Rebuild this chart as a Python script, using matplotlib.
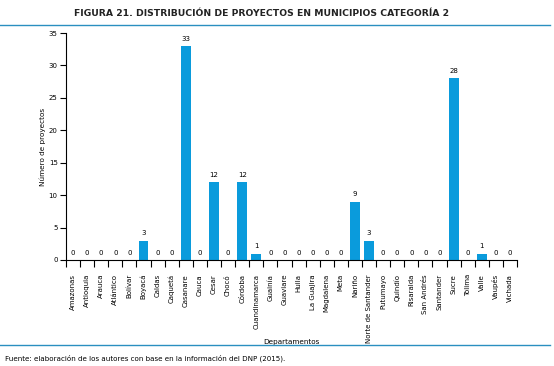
import matplotlib
matplotlib.use("Agg")
import matplotlib.pyplot as plt
from matplotlib.lines import Line2D
import numpy as np

plt.rcParams['font.family'] = ['Liberation Sans Narrow', 'DejaVu Sans Condensed', 'DejaVu Sans']

departamentos = ["Amazonas", "Antioquia", "Arauca", "Atlántico", "Bolívar", "Boyacá", "Caldas",
                 "Caquetá", "Casanare", "Cauca", "Cesar", "Chocó", "Córdoba", "Cuandinamarca",
                 "Guainía", "Guaviare", "Huila", "La Guajira", "Magdalena", "Meta", "Nariño",
                 "Norte de Santander", "Putumayo", "Quindío", "Risaralda", "San Andrés",
                 "Santander", "Sucre", "Tolima", "Valle", "Vaupés", "Vichada"]
proyectos = [0, 0, 0, 0, 0, 3, 0, 0, 33, 0, 12, 0, 12, 1, 0, 0, 0, 0, 0, 0, 9, 3,
             0, 0, 0, 0, 0, 28, 0, 1, 0, 0]
yticks = [0, 5, 10, 15, 20, 25, 30, 35]

W, H = 554, 366
fig = plt.figure(figsize=(W / 100, H / 100), dpi=100)
ax = fig.add_axes([66 / W, 1 - 260 / H, (517 - 66) / W, (260 - 33) / H])

blue = '#0a9bdc'
x = np.arange(len(departamentos))
ax.bar(x, proyectos, width=0.7, color=blue, zorder=2)
for xi, v in zip(x, proyectos):
    ax.annotate(str(v), (xi, v), xytext=(0, 3), textcoords='offset points',
                ha='center', va='bottom', fontsize=5)

ax.set_xlim(-0.5, len(departamentos) - 0.5)
ax.set_ylim(0, 35)
ax.set_yticks(yticks)
ax.set_yticklabels([str(t) for t in yticks], fontsize=5)
ax.set_xticks(list(x - 0.5) + [len(departamentos) - 0.5])
ax.set_xticklabels([])
ax.set_xticks(x, minor=True)
ax.set_xticklabels(departamentos, minor=True, rotation=90, fontsize=5)
ax.tick_params(axis='x', which='minor', length=0, pad=10)
ax.tick_params(axis='x', which='major', length=5, width=0.8, direction='out')
ax.tick_params(axis='y', length=4, width=0.8, pad=2)
for s in ['top', 'right']:
    ax.spines[s].set_visible(False)
for s in ['left', 'bottom']:
    ax.spines[s].set_linewidth(0.8)

ax.set_ylabel("Número de proyectos", fontsize=5.2)
ax.yaxis.set_label_coords(-0.045, 0.5)
ax.set_xlabel("Departamentos", fontsize=5.2)
ax.xaxis.set_label_coords(0.5, -0.35)

fig.text(262 / W, 1 - 13 / H, "FIGURA 21. DISTRIBUCIÓN DE PROYECTOS EN MUNICIPIOS CATEGORÍA 2",
         ha='center', va='center', fontsize=6.7, fontweight='bold', color='#222222')
fig.add_artist(Line2D([0, 550 / W], [1 - 25 / H, 1 - 25 / H], color='#2a8fc0', lw=1.0,
                      transform=fig.transFigure))
fig.add_artist(Line2D([0, 550 / W], [1 - 345 / H, 1 - 345 / H], color='#2a8fc0', lw=1.0,
                      transform=fig.transFigure))
fig.text(5 / W, 1 - 358 / H, "Fuente: elaboración de los autores con base en la información del DNP (2015).",
         ha='left', va='center', fontsize=5.1)

fig.savefig("out.png", dpi=100)
